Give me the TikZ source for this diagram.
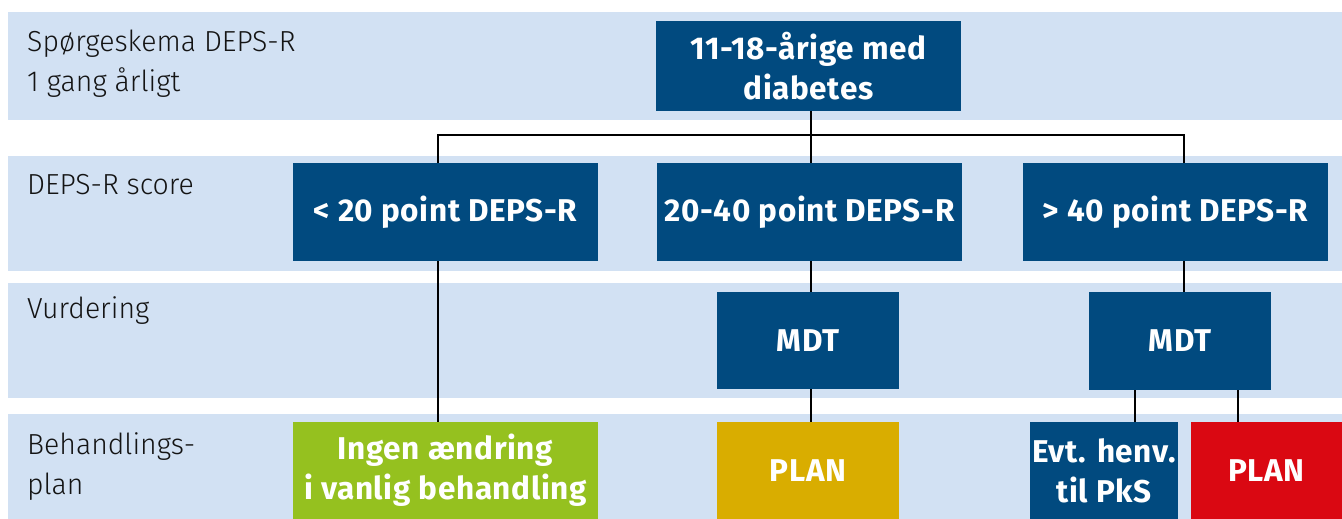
\documentclass[tikz,border=0pt]{standalone}
\usepackage{fontspec}
\setmainfont{Fira Sans}
\newfontfamily\lightfont{Fira Sans Light}[FakeStretch=0.98]
\newfontfamily\boxfont{Fira Sans}[LetterSpace=2]
\usetikzlibrary{calc}

\definecolor{band}{HTML}{D2E1F3}
\definecolor{navy}{HTML}{014A7F}
\definecolor{leaf}{HTML}{95C11F}
\definecolor{mustard}{HTML}{D9AD00}
\definecolor{signal}{HTML}{DA0812}

\tikzset{
  rowlabel/.style={anchor=west, inner sep=0pt, align=left, text=black!92,
    font=\lightfont\fontsize{29}{40}\selectfont},
  boxbase/.style={rectangle, inner sep=0pt, text=white, align=center,
    font=\boxfont\bfseries\fontsize{31.5}{40}\selectfont},
  bluebox/.style={boxbase, fill=navy},
  link/.style={draw=black, line width=2.6pt}
}

\begin{document}
\begin{tikzpicture}[x=1pt, y=-1pt]
  \useasboundingbox (0,0) rectangle (1342,519);

  % horizontal row bands
  \fill[band] (8,12) rectangle (1342,120);
  \fill[band] (8,156) rectangle (1342,271);
  \fill[band] (8,283) rectangle (1342,398);
  \fill[band] (8,414) rectangle (1342,519);

  % row labels
  \node[rowlabel] (l1) at (27,64) {Spørgeskema DEPS-R\\1 gang årligt};
  \node[rowlabel] (l2) at (27,185) {DEPS-R score};
  \node[rowlabel] (l3) at (27,311) {Vurdering};
  \node[rowlabel] (l4) at (27,467) {Behandlings-\\plan};

  % boxes
  \node[bluebox, minimum width=305pt, minimum height=90pt] (top) at (808.5,66) {11-18-årige med\\diabetes};

  \node[bluebox, minimum width=305pt, minimum height=98pt] (s1) at (445.5,212) {< 20 point DEPS-R};
  \node[bluebox, minimum width=305pt, minimum height=98pt] (s2) at (809.5,212) {20-40 point DEPS-R};
  \node[bluebox, minimum width=305pt, minimum height=98pt] (s3) at (1175.5,212) {> 40 point DEPS-R};

  \node[bluebox, minimum width=182pt, minimum height=97pt] (m2) at (808,340.5) {MDT};
  \node[bluebox, minimum width=182pt, minimum height=98pt] (m3) at (1180,341) {MDT};

  \node[boxbase, fill=leaf, minimum width=305pt, minimum height=97pt] (p1) at (445.5,470.5) {Ingen ændring\\i vanlig behandling};
  \node[boxbase, fill=mustard, minimum width=182pt, minimum height=97pt] (p2) at (808,470.5) {PLAN};
  \node[bluebox, minimum width=148pt, minimum height=97pt] (p3) at (1104,470.5) {Evt. henv.\\til PkS};
  \node[boxbase, fill=signal, minimum width=151pt, minimum height=97pt] (p4) at (1266.5,470.5) {PLAN};

  % branching points
  \coordinate (hub) at (811,135);
  \coordinate (b1) at (438,135);
  \coordinate (b3) at (1184,135);
  \coordinate (k1) at (1135,0);
  \coordinate (k2) at (1238,0);

  % connectors
  \draw[link] (top.south -| hub) -- (s2.north -| hub);
  \draw[link] (s1.north -| b1) -- (b1) -- (b3) -- (s3.north -| b3);
  \draw[link] (s1.south -| b1) -- (p1.north -| b1);
  \draw[link] (s2.south -| hub) -- (m2.north -| hub);
  \draw[link] (m2.south -| hub) -- (p2.north -| hub);
  \draw[link] (s3.south -| b3) -- (m3.north -| b3);
  \draw[link] (m3.south -| k1) -- (p3.north -| k1);
  \draw[link] (m3.south -| k2) -- (p4.north -| k2);
\end{tikzpicture}
\end{document}
